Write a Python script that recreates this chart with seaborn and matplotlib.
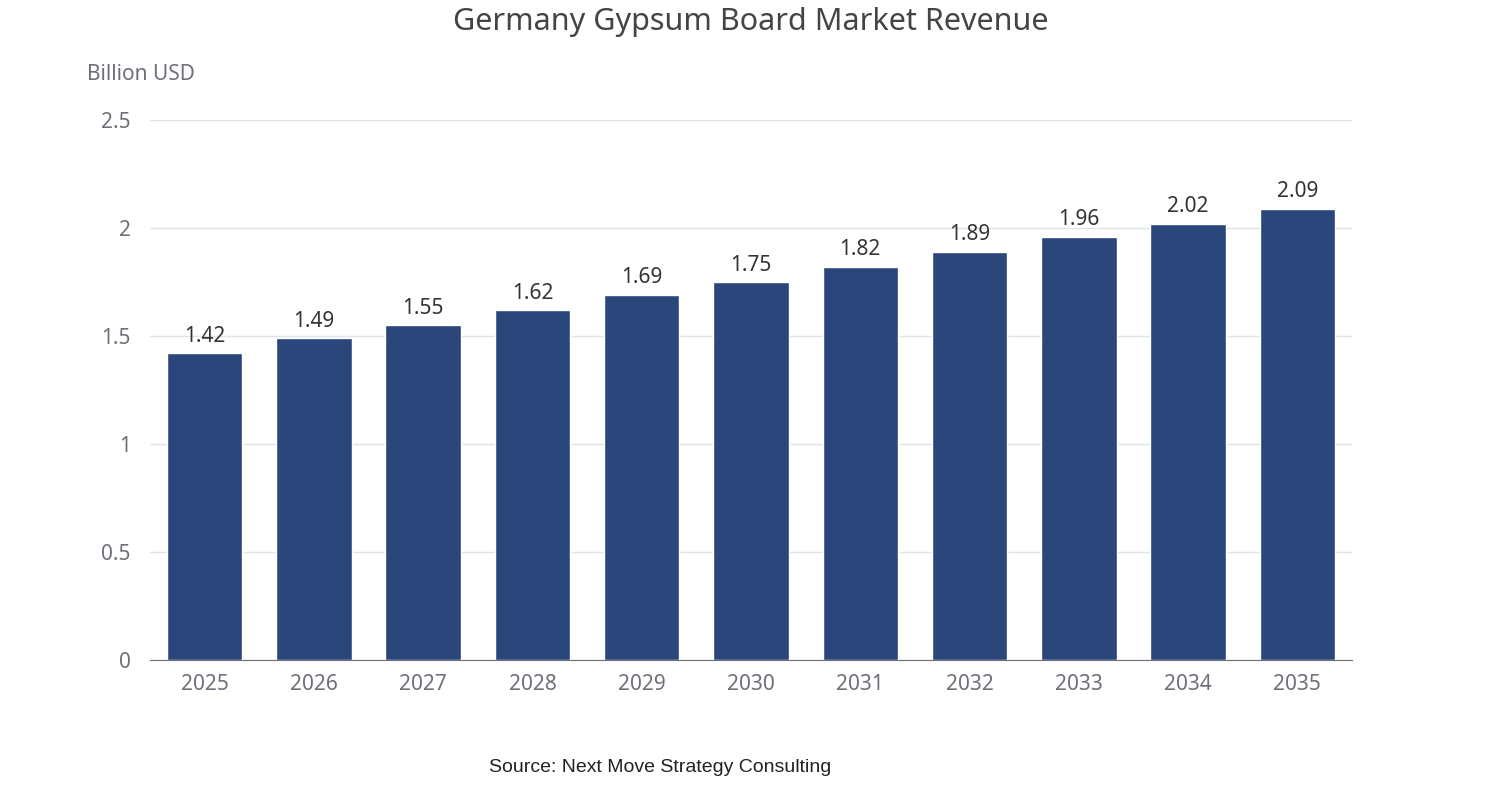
import matplotlib
matplotlib.use("Agg")
import matplotlib.pyplot as plt
import seaborn as sns
import pandas as pd
import numpy as np

years = ["2025", "2026", "2027", "2028", "2029", "2030", "2031", "2032", "2033", "2034", "2035"]
revenue = [1.42, 1.49, 1.55, 1.62, 1.69, 1.75, 1.82, 1.89, 1.96, 2.02, 2.09]

df = pd.DataFrame({"year": years, "revenue": revenue})

sns.set_style("white")
plt.rcParams["font.family"] = ["Noto Sans", "DejaVu Sans"]

fig = plt.figure(figsize=(15.02, 8), dpi=100)
ax = fig.add_axes([150 / 1502, 1 - 660 / 800, 1202 / 1502, 540 / 800])

sns.barplot(data=df, x="year", y="revenue", color="#2b467b", saturation=1, width=0.69, ax=ax)

for i, v in enumerate(revenue):
    ax.text(i, v + 0.03, f"{v:.2f}", ha="center", va="bottom", fontsize=15, color="#333333")

ax.set_xlim(-0.5, len(years) - 0.5)
ax.set_ylim(0, 2.5)
ax.set_yticks([0, 0.5, 1, 1.5, 2, 2.5])
ax.set_yticklabels(["0", "0.5", "1", "1.5", "2", "2.5"])
ax.yaxis.grid(True, color="#e0e3ea", linewidth=1)
ax.set_axisbelow(True)
ax.set_xlabel("")
ax.set_ylabel("")
for s in ["top", "right", "left"]:
    ax.spines[s].set_visible(False)
ax.spines["bottom"].set_color("#6e7079")
ax.tick_params(axis="y", length=0, labelsize=15, labelcolor="#6e7079", pad=14)
ax.tick_params(axis="x", which="major", length=0, labelsize=15, labelcolor="#6e7079", pad=10)
ax.set_xticks(np.arange(-0.5, len(years), 1), minor=True)
ax.tick_params(axis="x", which="minor", length=6, color="#6e7079")

fig.text(0.5, 0.972, "Germany Gypsum Board Market Revenue", ha="center", va="center",
         fontsize=22, fontweight="bold", color="#444444")
fig.text(87 / 1502, 1 - 75 / 800, "Billion USD", ha="left", va="center", fontsize=15, color="#6e7079")
fig.text(660 / 1502, 1 - 767 / 800, "Source: Next Move Strategy Consulting", ha="center", va="center",
         fontsize=14, color="#222222", family=["Liberation Sans", "DejaVu Sans"])

fig.savefig("out.png", dpi=100)
